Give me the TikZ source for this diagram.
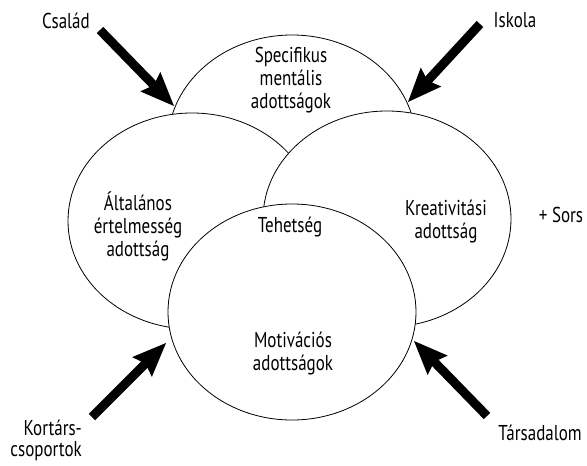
\documentclass[tikz,border=0pt]{standalone}
\usepackage{fontspec}
\setmainfont[FakeStretch=0.79]{PT Sans}
\usetikzlibrary{shapes.geometric, arrows.meta}

\begin{document}
\begin{tikzpicture}[
    x=1pt, y=-1pt,
    oval/.style={draw, ellipse, fill=white, line width=0.8pt, minimum width=248pt, minimum height=216pt, inner sep=0pt},
    txt/.style={align=center, inner sep=0pt, font=\fontsize{21.5}{23}\selectfont},
    push/.style={line width=9pt, -{Stealth[length=34pt, width=28pt, inset=5pt, line width=0pt]}},
]
\useasboundingbox (0,0) rectangle (587,466);

% ovals, back to front
\node[oval] (spec)  at (292,143) {};
\node[oval] (alt)   at (192,221) {};
\node[oval] (kreat) at (387,219) {};
\node[oval] (motiv) at (292,312) {};

% texts in the ovals
\node[txt] (specT)  at (291,80)  {Specifikus\\mentális\\adottságok};
\node[txt] (altT)   at (138,226) {Általános\\értelmesség\\adottság};
\node[txt] (kreatT) at (446,222) {Kreativitási\\adottság};
\node[txt, anchor=base] (teh) at (290,232) {Tehetség};
\node[txt] (motivT) at (293,354) {Motivációs\\adottságok};

% outer labels
\node[txt, anchor=base] (csalad) at (66,28)   {Család};
\node[txt, anchor=base] (iskola) at (515,27)  {Iskola};
\node[txt, anchor=base] (sors)   at (561,222) {+ Sors};
\node[txt, anchor=base] (tars)   at (540,440) {Társadalom};
\node[txt, align=right, anchor=north east, font=\fontsize{21.5}{21}\selectfont] (kort) at (82,420) {Kortárs-\\csoportok};

% arrows
\coordinate (csTail) at (100,30);  \coordinate (csTip) at (174,106);
\coordinate (isTail) at (480,24);  \coordinate (isTip) at (408,102);
\coordinate (koTail) at (92,417);  \coordinate (koTip) at (166,343);
\coordinate (taTail) at (487,416); \coordinate (taTip) at (414,341);

\foreach \a/\b in {csTail/csTip, isTail/isTip, koTail/koTip, taTail/taTip}
    \draw[push] (\a) -- (\b);

\end{tikzpicture}
\end{document}
